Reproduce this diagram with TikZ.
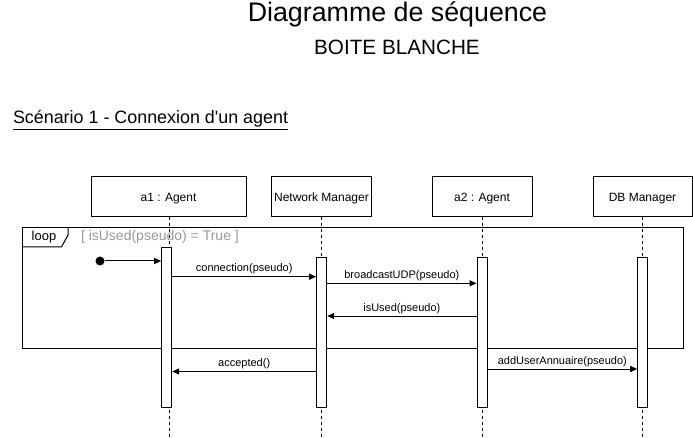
\documentclass[tikz,border=0pt]{standalone}
\usepackage{fontspec}
\setmainfont{Liberation Sans}
\usetikzlibrary{arrows.meta,positioning}

\begin{document}
\begin{tikzpicture}[x=1pt,y=-1pt,line width=1pt,
    head/.style={draw,fill=white,minimum width=100pt,minimum height=40pt,inner sep=0pt,text height=8.6pt,text depth=0pt,font=\fontsize{12}{14}\selectfont},
    act/.style={draw,fill=white,minimum width=10pt,minimum height=150pt,inner sep=0pt,anchor=north},
    lifeline/.style={dash pattern=on 3pt off 3pt},
    msg/.style={-{Triangle[length=7pt,width=6pt]}},
    lbl/.style={font=\fontsize{11}{13}\selectfont,above=1pt,inner sep=1pt}]
    \useasboundingbox (0,0) rectangle (693,438);
    % Titles
    \node[anchor=base,font=\fontsize{26.8}{30}\selectfont] (title) at (397.5,22) {Diagramme de séquence};
    \node[anchor=base,font=\fontsize{20.7}{24}\selectfont] (subtitle) at (397,54.5) {BOITE BLANCHE};
    \node[anchor=base west,inner sep=0pt,font=\fontsize{17.9}{20}\selectfont] (scenario) at (12.5,124) {\underline{Scénario 1 - Connexion d\textquotesingle un agent}};
    % Lifeline heads
    \node[head,minimum width=155pt] (a1) at (168.5,197) {a1 : Agent};
    \node[head] (nm) at (321.5,197) {Network Manager};
    \node[head] (a2) at (482,197) {a2 : Agent};
    \node[head,minimum width=99pt] (db) at (642.5,197) {DB Manager};
    % Lifelines
    \coordinate (a1end) at (169.3,438);
    \coordinate (nmend) at (321.7,438);
    \coordinate (a2end) at (482.3,438);
    \coordinate (dbend) at (642.3,438);
    \draw[lifeline] (a1.south -| a1end) -- (a1end);
    \draw[lifeline] (nm.south -| nmend) -- (nmend);
    \draw[lifeline] (a2.south -| a2end) -- (a2end);
    \draw[lifeline] (db.south -| dbend) -- (dbend);
    % Loop frame
    \node[draw,minimum width=660.5pt,minimum height=120pt,inner sep=0pt,anchor=north west] (loopframe) at (22,227.5) {};
    \draw (loopframe.north west) ++(46,0) -- ++(0,7.5) -- ++(-6.5,12) -- ++(-39.5,0);
    \node[font=\fontsize{13}{15}\selectfont] (looplbl) at (44,237) {loop};
    \node[anchor=west,inner sep=0pt,text=black!40,font=\fontsize{14}{16}\selectfont] (guard) at (80.5,237) {[ isUsed(pseudo) = True ]};
    % Activations
    \node[act,minimum height=160pt] (a1act) at (166.7,247) {};
    \node[act] (nmact) at (321.7,257) {};
    \node[act] (a2act) at (482,257) {};
    \node[act] (dbact) at (642.7,257) {};
    % Messages
    \node[circle,fill,inner sep=0pt,minimum size=9pt] (start) at (100,261) {};
    \draw[msg] (start) -- (start -| a1act.west);
    \draw[msg] (a1act.east |- 0,276.7) -- (nmact.west |- 0,276.7) node[lbl,midway] {connection(pseudo)};
    \draw[msg] (nmact.east |- 0,283.3) -- (a2act.west |- 0,283.3) node[lbl,midway] {broadcastUDP(pseudo)};
    \draw[msg] (a2act.west |- 0,316) -- (nmact.east |- 0,316) node[lbl,midway] {isUsed(pseudo)};
    \draw[msg] (nmact.west |- 0,371.5) -- (a1act.east |- 0,371.5) node[lbl,midway] {accepted()};
    \draw[msg] (a2act.east |- 0,369) -- (dbact.west |- 0,369) node[lbl,midway] {addUserAnnuaire(pseudo)};
\end{tikzpicture}
\end{document}
